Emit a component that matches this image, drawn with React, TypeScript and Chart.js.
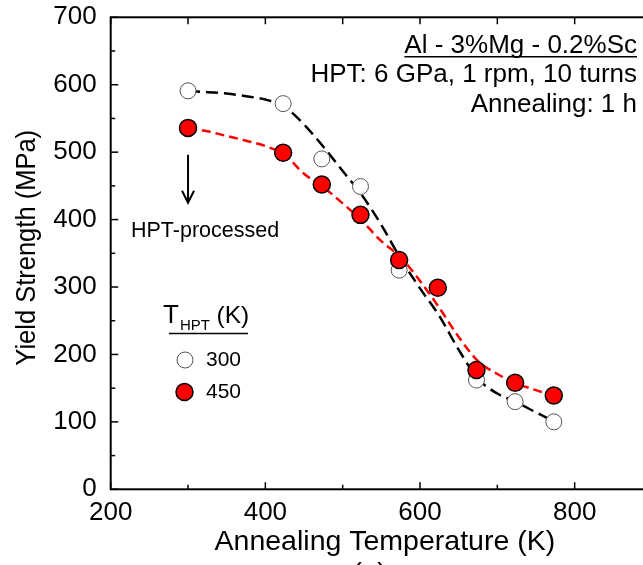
import React, { useEffect, useRef } from "react";
import { Chart, registerables } from "chart.js";

Chart.register(...registerables);

const FONT = '"Liberation Sans", Arial, Helvetica, sans-serif';

// ---- data ----
const annealTemps = [300, 423, 473, 523, 573, 623, 673, 723, 773];
const ys300K: (number | null)[] = [591, 572, 490, 449, 325, null, 162, 130, 100];
const ys450K = [536, 499, 452, 407, 340, 299, 177, 158, 139];

const fitTemps = [300, 325, 350, 375, 400, 425, 450, 475, 500, 525, 550, 575, 600, 625, 650, 675, 700, 725, 750, 773];
const fit300K = [591, 589, 587, 583, 578, 567, 541, 508, 472, 436, 392, 342, 298, 257, 207, 164, 142, 129, 114, 101];
const fit450K = [536, 531, 524, 517, 509, 496, 468, 448, 424, 398, 368, 344, 309, 269, 226, 190, 171, 157, 147, 139];

const xTickLabels = [200, 400, 600, 800];
const yTickLabels = [0, 100, 200, 300, 400, 500, 600, 700];

const xTitle = "Annealing Temperature (K)";
const yTitle = "Yield Strength (MPa)";
const noteLines = ["Al - 3%Mg - 0.2%Sc", "HPT: 6 GPa, 1 rpm, 10 turns", "Annealing: 1 h"];
const legendTitle = ["T", "HPT", "(K)"];
const legendLabels = ["300", "450"];
const arrowLabel = "HPT-processed";
const caption = "(a)";

const toPoints = (xs: number[], ys: (number | null)[]) =>
  xs.map((x, i) => ({ x, y: ys[i] })).filter((p) => p.y !== null);

const decorPlugin = {
  id: "decor",
  afterDraw(chart: any) {
    const { ctx, chartArea: a, scales } = chart;
    const xs = scales.x;
    const ys = scales.y;
    ctx.save();
    ctx.strokeStyle = "#000";
    ctx.fillStyle = "#000";

    // frame
    ctx.lineWidth = 2;
    ctx.strokeRect(a.left, a.top, a.right - a.left, a.bottom - a.top);

    // x ticks (inward)
    ctx.lineWidth = 1.5;
    for (let v = 200; v <= 900; v += 100) {
      const px = xs.getPixelForValue(v);
      const major = xTickLabels.includes(v);
      ctx.beginPath();
      ctx.moveTo(px, a.bottom);
      ctx.lineTo(px, a.bottom - (major ? 7 : 4.5));
      ctx.moveTo(px, a.top);
      ctx.lineTo(px, a.top + 7);
      ctx.stroke();
    }
    // y ticks (inward)
    for (let v = 0; v <= 700; v += 50) {
      const py = ys.getPixelForValue(v);
      const major = v % 100 === 0;
      ctx.beginPath();
      ctx.moveTo(a.left, py);
      ctx.lineTo(a.left + (major ? 7.5 : 4.5), py);
      ctx.stroke();
    }

    // axis titles
    ctx.textBaseline = "alphabetic";
    ctx.textAlign = "center";
    ctx.font = `28.5px ${FONT}`;
    ctx.fillText(xTitle, (a.left + a.right) / 2 + 3.5, 550);
    ctx.save();
    ctx.translate(35, (a.top + a.bottom) / 2 - 5.5);
    ctx.scale(1.08, 1);
    ctx.rotate(-Math.PI / 2);
    ctx.font = `25.5px ${FONT}`;
    ctx.fillText(yTitle, 0, 0);
    ctx.restore();

    // annotation block (top right)
    ctx.textAlign = "right";
    ctx.textBaseline = "alphabetic";
    ctx.font = `26px ${FONT}`;
    const rightX = 637;
    const baselines = [52.7, 81.7, 111.7];
    noteLines.forEach((t, i) => ctx.fillText(t, rightX, baselines[i]));
    const w0 = ctx.measureText(noteLines[0]).width;
    ctx.lineWidth = 1.5;
    ctx.beginPath();
    ctx.moveTo(rightX - w0, 56.8);
    ctx.lineTo(rightX, 56.8);
    ctx.stroke();

    // arrow + label
    const ax = xs.getPixelForValue(300);
    const ay0 = ys.getPixelForValue(496);
    const ay1 = ys.getPixelForValue(425);
    ctx.lineWidth = 2;
    ctx.beginPath();
    ctx.moveTo(ax, ay0);
    ctx.lineTo(ax, ay1);
    ctx.moveTo(ax - 6, ay1 - 12);
    ctx.lineTo(ax, ay1);
    ctx.lineTo(ax + 6, ay1 - 12);
    ctx.stroke();
    ctx.textAlign = "left";
    ctx.font = `21.5px ${FONT}`;
    ctx.fillText(arrowLabel, 131, 236.7);

    // legend
    ctx.font = `26px ${FONT}`;
    ctx.fillText(legendTitle[0], 163, 323);
    ctx.font = `15px ${FONT}`;
    ctx.fillText(legendTitle[1], 180, 330);
    ctx.font = `24.5px ${FONT}`;
    ctx.fillText(legendTitle[2], 216.5, 323);
    ctx.lineWidth = 1.5;
    ctx.beginPath();
    ctx.moveTo(169, 333.5);
    ctx.lineTo(248, 333.5);
    ctx.stroke();

    ctx.beginPath();
    ctx.arc(185, 360, 8, 0, Math.PI * 2);
    ctx.fillStyle = "#fff";
    ctx.fill();
    ctx.lineWidth = 1;
    ctx.strokeStyle = "#555";
    ctx.stroke();

    ctx.beginPath();
    ctx.arc(184.5, 392, 8.5, 0, Math.PI * 2);
    ctx.fillStyle = "#ff0000";
    ctx.fill();
    ctx.lineWidth = 1.5;
    ctx.strokeStyle = "#000";
    ctx.stroke();

    ctx.fillStyle = "#000";
    ctx.font = `21px ${FONT}`;
    ctx.textBaseline = "middle";
    ctx.fillText(legendLabels[0], 206, 360);
    ctx.fillText(legendLabels[1], 206, 392);

    // caption (cut off at the bottom)
    ctx.textAlign = "center";
    ctx.textBaseline = "alphabetic";
    ctx.font = `28px ${FONT}`;
    ctx.fillText(caption, 369.5, 582);

    ctx.restore();
  },
};

export default function App() {
  const canvasRef = useRef<HTMLCanvasElement | null>(null);

  useEffect(() => {
    const canvas = canvasRef.current;
    if (!canvas) return;
    const chart = new Chart(canvas, {
      type: "scatter",
      data: {
        datasets: [
          {
            label: "450",
            data: toPoints(annealTemps, ys450K),
            showLine: false,
            pointRadius: 8.5,
            pointBackgroundColor: "#ff0000",
            pointBorderColor: "#000",
            pointBorderWidth: 1.5,
            order: 0,
          },
          {
            label: "300",
            data: toPoints(annealTemps, ys300K),
            showLine: false,
            pointRadius: 8,
            pointBackgroundColor: "#fff",
            pointBorderColor: "#555",
            pointBorderWidth: 1,
            order: 1,
          },
          {
            label: "fit 450",
            data: toPoints(fitTemps, fit450K),
            showLine: true,
            borderColor: "#ff0000",
            borderWidth: 2.5,
            borderDash: [9, 5],
            pointRadius: 0,
            cubicInterpolationMode: "monotone",
            order: 2,
          },
          {
            label: "fit 300",
            data: toPoints(fitTemps, fit300K),
            showLine: true,
            borderColor: "#000",
            borderWidth: 2.5,
            borderDash: [12, 6],
            pointRadius: 0,
            cubicInterpolationMode: "monotone",
            order: 3,
          },
        ],
      } as any,
      options: {
        animation: false,
        responsive: false,
        devicePixelRatio: 1,
        layout: { padding: { top: 17.3, right: 48, left: 0, bottom: 0 } },
        plugins: {
          legend: { display: false },
          tooltip: { enabled: false },
        },
        scales: {
          x: {
            type: "linear",
            min: 200,
            max: 900,
            grid: { display: false, drawTicks: false },
            border: { display: false },
            ticks: {
              stepSize: 100,
              autoSkip: false,
              maxRotation: 0,
              padding: 8,
              color: "#000",
              font: { family: FONT, size: 26 },
              callback: (v: any) => (xTickLabels.includes(Number(v)) ? String(v) : ""),
            },
            afterFit: (s: any) => {
              s.height = 75.7;
              s.paddingLeft = 0;
              s.paddingRight = 0;
            },
          },
          y: {
            type: "linear",
            min: 0,
            max: 700,
            grid: { display: false, drawTicks: false },
            border: { display: false },
            ticks: {
              stepSize: 100,
              padding: 14,
              color: "#000",
              font: { family: FONT, size: 26 },
              callback: (v: any) => (yTickLabels.includes(Number(v)) ? String(v) : ""),
            },
            afterFit: (s: any) => {
              s.width = 110.7;
              s.paddingTop = 0;
              s.paddingBottom = 0;
            },
          },
        },
      } as any,
      plugins: [decorPlugin],
    });
    return () => chart.destroy();
  }, []);

  return (
    <div
      style={{
        position: "fixed",
        left: 0,
        top: 0,
        width: 643,
        height: 565,
        overflow: "hidden",
        background: "#fff",
      }}
    >
      <canvas ref={canvasRef} width={700} height={565} style={{ width: 700, height: 565, display: "block" }} />
    </div>
  );
}
